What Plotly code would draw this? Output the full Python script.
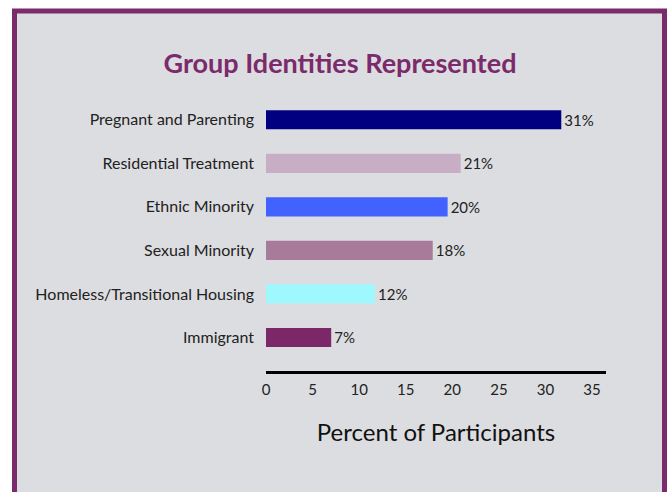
import plotly.graph_objects as go

categories = ["Immigrant", "Homeless/Transitional Housing", "Sexual Minority",
              "Ethnic Minority", "Residential Treatment", "Pregnant and Parenting"]
values = [7.0, 11.7, 17.9, 19.5, 20.9, 31.7]
labels = ["7%", "12%", "18%", "20%", "21%", "31%"]
colors = ["#7b2768", "#a0f8ff", "#a97b9b", "#4262ff", "#c8aec4", "#000080"]
x_ticks = [0, 5, 10, 15, 20, 25, 30, 35]

W, H = 667, 492
L, R, T, B = 266, 61, 97.6, 121
pw, ph = W - L - R, H - T - B

def px(x):
    return (x - L) / pw

def py(y):
    return (H - B - y) / ph

fig = go.Figure(go.Bar(
    x=values, y=categories, orientation="h",
    marker=dict(color=colors, line=dict(width=0)),
    width=0.44,
    text=labels, textposition="outside", cliponaxis=False,
    textfont=dict(family="Lato", size=15, color="#222222"),
))

fig.add_shape(type="rect", xref="paper", yref="paper",
              x0=px(14.5), x1=px(664.5), y0=py(520), y1=py(10.5),
              line=dict(color="#7b2a6b", width=5), fillcolor="#dcdde0",
              layer="below")

fig.update_layout(
    width=W, height=H,
    margin=dict(l=L, r=R, t=T, b=B),
    paper_bgcolor="white", plot_bgcolor="rgba(0,0,0,0)",
    showlegend=False,
    title=dict(text="<b>Group Identities Represented</b>", x=340 / W, xanchor="center",
               y=1 - 64 / H, yanchor="middle", yref="container",
               font=dict(family="Lato", size=27, color="#7b2a6b")),
    xaxis=dict(range=[0, 36.5], tickvals=x_ticks, showgrid=False, zeroline=False,
               showline=True, linecolor="black", linewidth=2.5,
               ticklabelstandoff=3,
               tickfont=dict(family="Lato", size=15, color="#222222"),
               title=dict(text="Percent of Participants", standoff=28,
                          font=dict(family="Lato", size=24, color="#111111"))),
    yaxis=dict(categoryorder="array", categoryarray=categories,
               range=[-0.77, 5.5], showgrid=False, zeroline=False, showline=False,
               ticklabelstandoff=11,
               tickfont=dict(family="Lato", size=16, color="#222222")),
)

fig.write_html("out.html")
